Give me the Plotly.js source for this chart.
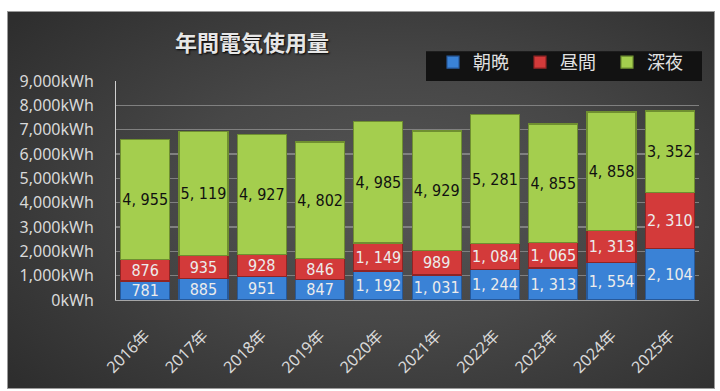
<!DOCTYPE html>
<html><head><meta charset="utf-8">
<script src="https://cdn.plot.ly/plotly-3.0.1.min.js"></script>
<style>
html,body{margin:0;padding:0;background:#fff;}
#wrap{position:relative;width:720px;height:391px;background:#fff;overflow:hidden;}
#bg{position:absolute;left:7px;top:11px;width:706px;height:376px;border:1px solid #9a9a9a;
background:radial-gradient(ellipse 70% 75% at 55% 50%, #555 0%, #474747 45%, #2e2e2e 100%);}
#chart{position:absolute;left:0;top:0;width:720px;height:391px;}
</style></head>
<body><div id="wrap"><div id="bg"></div><div id="chart"></div></div>
<script>
const years = ['2016年','2017年','2018年','2019年','2020年','2021年','2022年','2023年','2024年','2025年'];
const morningEvening = [781,885,951,847,1192,1031,1244,1313,1554,2104];
const daytime = [876,935,928,846,1149,989,1084,1065,1313,2310];
const lateNight = [4955,5119,4927,4802,4985,4929,5281,4855,4858,3352];
const seriesNames = ['朝晩','昼間','深夜'];
const yTicks = [0,1000,2000,3000,4000,5000,6000,7000,8000,9000];
const yTickText = yTicks.map(v => v.toLocaleString('en-US') + 'kWh');

function fmt(v){ return v.toLocaleString('en-US').replace(/,/g, ', '); }
const labelFont = 'DejaVu Sans Condensed, Liberation Sans Narrow, Noto Sans';

function bar(name, vals, fill, edge, txtColor){
  return {type:'bar', name:name, x:years, y:vals, text:vals.map(fmt),
    textposition:'inside', insidetextanchor:'middle', textangle:0, constraintext:'none',
    textfont:{family:labelFont, size:16, color:txtColor},
    marker:{color:fill, line:{color:edge, width:1.2}},
    hoverinfo:'skip'};
}
const data = [
  bar(seriesNames[0], morningEvening, '#3a82d6', '#27599a', '#ececec'),
  bar(seriesNames[1], daytime, '#d33a3a', '#8f2424', '#ececec'),
  bar(seriesNames[2], lateNight, '#a4ce4e', '#6f8f30', '#111111')
];
const layout = {
  width:720, height:391,
  paper_bgcolor:'rgba(0,0,0,0)', plot_bgcolor:'rgba(0,0,0,0)',
  margin:{l:116, r:21, t:80, b:91},
  barmode:'stack', bargap:0.16,
  font:{family:'Noto Sans, Noto Sans CJK JP', color:'#d9d9d9'},
  title:{text:'年間電気使用量', xref:'container', x:252/720, xanchor:'center',
    yref:'container', y:1-43/391, yanchor:'middle',
    font:{family:'Noto Sans CJK JP', size:22, weight:700, color:'#e6e6e6', shadow:'1px 1px 2px #000'}},
  xaxis:{type:'category', tickangle:-45, showgrid:false, showline:true, linecolor:'#a6a6a6', linewidth:1,
    ticks:'', ticklabelstandoff:19,
    tickfont:{family:'Noto Sans, Noto Sans CJK JP', size:16, color:'#d9d9d9'}},
  yaxis:{range:[0,9000], tickvals:yTicks, ticktext:yTickText,
    showgrid:true, gridcolor:'#808080', gridwidth:1.3, showline:true, linecolor:'#d0d0d0', linewidth:1,
    zeroline:false, ticks:'', ticklabelstandoff:18,
    tickfont:{family:'Noto Sans', size:16, color:'#d9d9d9'}},
  showlegend:true,
  legend:{orientation:'h', xref:'container', yref:'container', x:433/720, xanchor:'left',
    y:1-44/391, yanchor:'top', bgcolor:'rgba(0,0,0,0)', traceorder:'normal',
    font:{family:'Noto Sans CJK JP', size:18, color:'#e0e0e0'}, itemwidth:30, entrywidth:42},
  shapes:[{type:'rect', xref:'paper', yref:'paper', x0:(426-116)/583, x1:(702-116)/583,
    y0:1, y1:1+30/220, fillcolor:'#121212', line:{width:0}, layer:'above'}]
};
Plotly.newPlot('chart', data, layout, {displayModeBar:false, staticPlot:true});
</script></body></html>
